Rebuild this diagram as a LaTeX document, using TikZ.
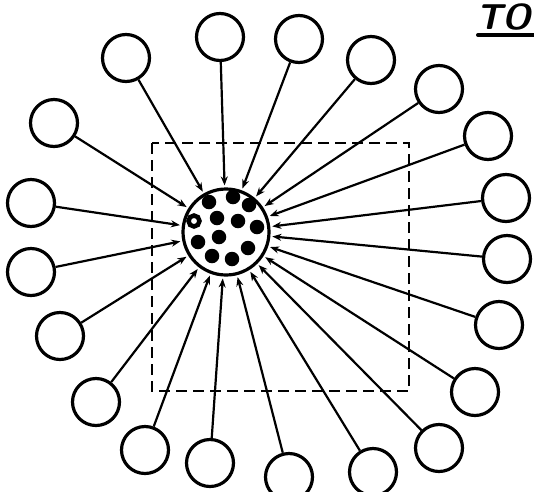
\documentclass[tikz,border=0pt]{standalone}
\usetikzlibrary{arrows.meta}
\begin{document}
\begin{tikzpicture}[x=1pt,y=-1pt,
  outer/.style={circle,draw=black,line width=3.2pt,minimum size=47pt,inner sep=0pt,fill=white},
  hubstyle/.style={circle,draw=black,line width=3.2pt,minimum size=86pt,inner sep=0pt},
  dot/.style={circle,fill=black,minimum size=14.5pt,inner sep=0pt},
  ring/.style={circle,draw=black,line width=4.5pt,minimum size=11pt,inner sep=0pt},
  link/.style={line width=2.2pt,-{Stealth[length=9pt,width=7pt]},shorten >=2pt},
  frame/.style={line width=2.8pt,dash pattern=on 11pt off 6pt}]
\useasboundingbox (0,0) rectangle (534,491);
\node[hubstyle] (hub) at (226,232) {};
\draw[frame] (152,143) rectangle (409,391);
\foreach \n/\x/\y in {1/126/58,2/220/37,3/299/39,4/371/60,5/439/89,6/488/136,7/506/198,8/507/259,9/499/325,10/475/392,11/439/448,12/373/472,13/289/477,14/210/463,15/145/450,16/96/402,17/60/336,18/31/272,19/31/203,20/54/123}{
  \node[outer] (c\n) at (\x,\y) {};
  \draw[link] (c\n) -- (hub);
}
\foreach \n/\x/\y in {1/209/202,2/233/197,3/249/205,5/217/218,6/238/221,7/257/227,8/219/237,9/198/242,10/248/248,11/212/256,12/232/259}{
  \node[dot] (d\n) at (\x,\y) {};
}
\node[ring] (d4) at (194,221) {};
\node[anchor=south west,inner sep=0pt,font=\fontsize{36}{36}\selectfont\sffamily\bfseries\itshape] (title) at (476,30) {TO};
\draw[line width=4pt,line cap=round] (478,35) -- (534,35);
\end{tikzpicture}
\end{document}
